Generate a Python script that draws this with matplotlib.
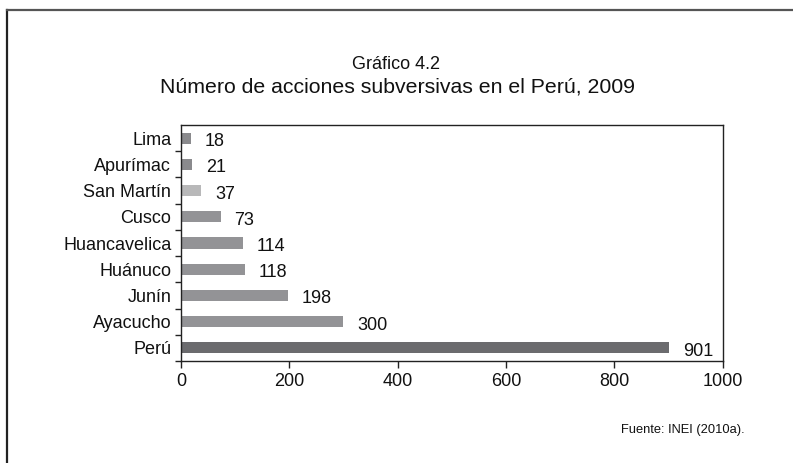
import matplotlib.pyplot as plt
from matplotlib.lines import Line2D

plt.rcParams['font.family'] = ['Liberation Sans', 'DejaVu Sans']

# acciones subversivas por departamento, 2009 (INEI)
regiones = ['Perú', 'Ayacucho', 'Junín', 'Huánuco', 'Huancavelica',
            'Cusco', 'San Martín', 'Apurímac', 'Lima']
acciones = [901, 300, 198, 118, 114, 73, 37, 21, 18]
colores = ['#6b6b6e', '#939396', '#939396', '#939396', '#939396',
           '#939396', '#b8b8b9', '#8a8a8d', '#8a8a8d']
x_ticks = [0, 200, 400, 600, 800, 1000]

fig = plt.figure(figsize=(7.93, 4.63), dpi=100)
ax = fig.add_axes([181/793, 1 - 361/463, 541.5/793, 236/463])

pos = range(len(regiones))
ax.barh(pos, acciones, height=0.42, color=colores)

for y, v in zip(pos, acciones):
    ax.annotate(str(v), (v, y), xytext=(10, -2.5), textcoords='offset points',
                ha='left', va='center', fontsize=13, color='#111111')

ax.set_xlim(0, 1000)
ax.set_ylim(-0.5, len(regiones) - 0.5)
ax.set_xticks(x_ticks)
ax.set_yticks(list(pos))
ax.set_yticklabels(regiones)
# ticks on the y axis sit between the categories
ax.set_yticks([i - 0.5 for i in range(len(regiones))], minor=True)
ax.tick_params(axis='y', which='major', length=0, pad=7, labelsize=13, colors='#111111')
ax.tick_params(axis='y', which='minor', length=4.5, width=1, color='#222222')
ax.tick_params(axis='x', length=5, width=1, color='#222222', pad=4,
               labelsize=13, labelcolor='#111111')
for s in ax.spines.values():
    s.set_color('#222222')
    s.set_linewidth(1)

fig.text(0.500, 1 - 64.5/463, 'Gráfico 4.2', ha='center', va='center', fontsize=13, color='#111111')
fig.text(0.501, 1 - 87/463, 'Número de acciones subversivas en el Perú, 2009',
         ha='center', va='center', fontsize=15.3, color='#111111')
fig.text(745/793, 1 - 430/463, 'Fuente: INEI (2010a).', ha='right', va='center',
         fontsize=9.3, color='#111111')

# outer frame around the figure block
fig.add_artist(Line2D([7/793, 7/793], [0, 1 - 10/463], color='#222222', lw=1.6))
fig.add_artist(Line2D([7/793, 1], [1 - 10/463, 1 - 10/463], color='#555555', lw=1.6))

fig.savefig('out.png', dpi=100)
